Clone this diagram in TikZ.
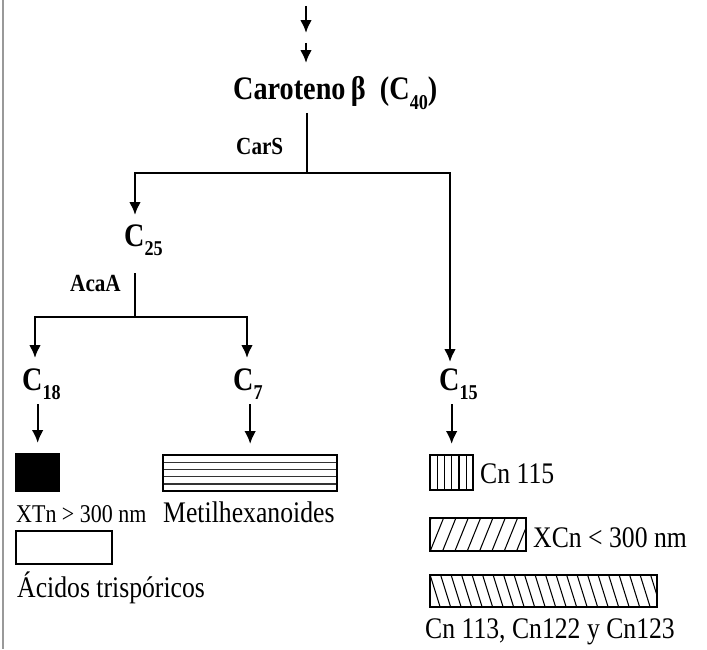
\documentclass[tikz,border=0pt]{standalone}
\usepackage{fontspec}
\setmainfont{Liberation Serif}[FakeStretch=0.86]
\usetikzlibrary{arrows.meta, positioning}
\newcommand{\csub}[1]{\raisebox{-0.3em}{\fontsize{18}{18}\selectfont #1}}

\begin{document}
\begin{tikzpicture}[
  x=0.03cm, y=-0.03cm,
  every node/.style={inner sep=0pt, anchor=base west},
  big/.style={font=\fontsize{28}{32}\selectfont\bfseries},
  enz/.style={font=\fontsize{21}{24}\selectfont\bfseries},
  lbl/.style={font=\fontsize{25.5}{28}\selectfont},
  line/.style={line width=2.2pt},
  arr/.style={line width=2pt, -{Latex[length=11pt,width=10pt]}},
  swatch/.style 2 args={draw, line width=2pt, anchor=north west, minimum width=#1, minimum height=#2},
  hlines/.style={path picture={\foreach \k in {1,...,4}
    \draw[line width=1pt, black!80] ([yshift=-\k*0.216cm]path picture bounding box.north west) -- ([yshift=-\k*0.216cm]path picture bounding box.north east);}},
  vlines/.style={path picture={\foreach \k in {1,...,5}
    \draw[line width=1pt] ([xshift=\k*0.216cm]path picture bounding box.north west) -- ([xshift=\k*0.216cm]path picture bounding box.south west);}},
  nelines/.style={path picture={\foreach \k in {-2,...,9}
    \draw[line width=0.9pt] ([xshift=\k*0.37cm]path picture bounding box.south west) -- ++(0.4cm,0.99cm);}},
  nwlines/.style={path picture={\foreach \k in {-2,...,23}
    \draw[line width=0.9pt] ([xshift=\k*0.315cm]path picture bounding box.north west) -- ++(0.3cm,-0.96cm);}},
]
\useasboundingbox (0,0) rectangle (707,649);
\draw[gray!80, line width=2pt] (3,0) -- (3,649);

%% Top of the pathway
\coordinate (top0) at (306,6);
\coordinate (top1) at (306,33);
\coordinate (top2) at (306,43);
\coordinate (top3) at (306,63);
\draw[arr] (top0) -- (top1);
\draw[arr] (top2) -- (top3);

\node[big] (caro) at (233,100) {Caroteno\,β~~(C\csub{40})};
\node[enz] (cars) at (236,154) {CarS};

%% First cleavage
\coordinate (stem1) at (307,113);
\coordinate (fork1) at (307,173);
\coordinate (in25) at (135,215);
\coordinate (in15) at (450,362);
\draw[line] (stem1) -- (fork1);
\draw[arr] (fork1) -| (in25);
\draw[arr] (fork1) -| (in15);

\node[big] (c25) at (124,246) {C\csub{25}};
\node[enz] (acaa) at (70,291) {AcaA};

%% Second cleavage
\coordinate (stem2) at (135,273);
\coordinate (fork2) at (135,317);
\coordinate (in18) at (35,358);
\coordinate (in7) at (247,358);
\draw[line] (stem2) -- (fork2);
\draw[arr] (fork2) -| (in18);
\draw[arr] (fork2) -| (in7);

\node[big] (c18) at (22,390) {C\csub{18}};
\node[big] (c7)  at (233,390) {C\csub{7}};
\node[big] (c15) at (439,390) {C\csub{15}};

%% Products
\node[swatch={1.29cm}{1.11cm}, fill=black] (blk) at (15,453) {};
\node[swatch={5.22cm}{1.08cm}, hlines] (hbox) at (162,454) {};
\node[swatch={1.29cm}{1.05cm}, vlines] (vbox) at (429,454) {};

\draw[arr, shorten <=0.12cm, shorten >=0.3cm] (c18.south -| blk.north) -- (blk.north);
\draw[arr, shorten <=0.12cm, shorten >=0.3cm] (c7.south -| hbox.north) -- (hbox.north);
\draw[arr, shorten <=0.12cm, shorten >=0.3cm] (c15.south -| vbox.north) -- (vbox.north);

\node[lbl, font=\fontsize{21.8}{24}\selectfont] (xtn) at (16,522) {XTn > 300 nm};
\node[swatch={2.88cm}{0.99cm}] (wbox) at (15,530) {};
\node[lbl] (acid) at (17,597) {Ácidos trispóricos};
\node[lbl] (metil) at (163,522) {Metilhexanoides};

\node[lbl] (cn115) at (480,483) {Cn 115};
\node[swatch={2.88cm}{0.99cm}, nelines] (nebox) at (429,517) {};
\node[lbl] (xcn) at (533,547) {XCn < 300 nm};
\node[swatch={6.81cm}{0.96cm}, nwlines] (nwbox) at (429,574) {};
\node[lbl] (cn113) at (425,638) {Cn 113, Cn122 y Cn123};

\end{tikzpicture}
\end{document}
